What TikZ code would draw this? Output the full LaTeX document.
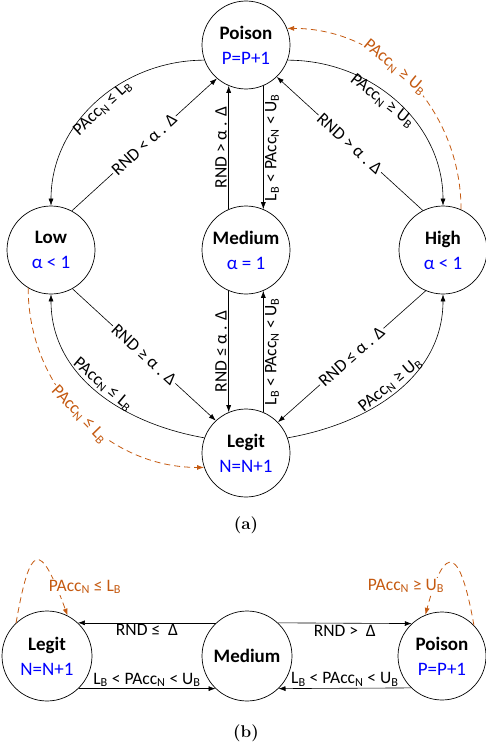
\documentclass[tikz,border=0pt]{standalone}
\usepackage{fontspec}
\usepackage{tikz}
\usetikzlibrary{arrows.meta,positioning}
\newfontfamily\calibri{Carlito}
\definecolor{accorange}{RGB}{197,90,17}
\newcommand{\pacc}{PAcc\textsubscript{N}}
\newcommand{\lbnd}{L\textsubscript{B}}
\newcommand{\ubnd}{U\textsubscript{B}}
\tikzset{
  state/.style={circle, draw, line width=0.7pt, minimum size=88pt, inner sep=0pt,
                align=center, font=\calibri\fontsize{19}{25}\selectfont},
  lbl/.style={font=\calibri\fontsize{17.5}{19}\selectfont, inner sep=1.5pt},
  onl/.style={lbl, sloped, fill=white},
  trans/.style={->, line width=0.6pt},
  dtrans/.style={->, line width=0.8pt, accorange, dash pattern=on 6pt off 4pt},
  >={Latex[length=7pt,width=5pt]}
}

\begin{document}
\begin{tikzpicture}[x=1pt,y=1pt]
  \useasboundingbox (0,0) rectangle (486,-749);

  % (a)
  \node[state] (poison) at (246,-45)  {\textbf{Poison}\\\textcolor{blue}{P=P+1}};
  \node[state] (low)    at (51,-250)  {\textbf{Low}\\\textcolor{blue}{α < 1}};
  \node[state] (medium) at (246,-250) {\textbf{Medium}\\\textcolor{blue}{α = 1}};
  \node[state] (high)   at (443,-250) {\textbf{High}\\\textcolor{blue}{α < 1}};
  \node[state] (legit)  at (246,-453) {\textbf{Legit}\\\textcolor{blue}{N=N+1}};

  \draw[trans] (poison.200) to[out=180,in=90] node[lbl,sloped,midway,below] {\pacc\ ≤ \lbnd} (low.north);
  \draw[trans] (low.62) -- node[onl] {RND < α . Δ} (poison.229);
  \draw[trans] (medium.113) -- node[lbl,rotate=90,anchor=south] {RND > α . Δ} (poison.247);
  \draw[trans] (poison.293) -- node[lbl,rotate=90,anchor=north] {\lbnd\ < \pacc\ < \ubnd} (medium.67);
  \draw[trans] (poison.-20) to[out=0,in=90] node[lbl,sloped,pos=.45,below] {\pacc\ ≥ \ubnd} (high.north);
  \draw[trans] (high.117) -- node[onl] {RND > α . Δ} (poison.314);
  \draw[dtrans] (high.66) to[out=90,in=0] node[onl,pos=.58] {\pacc\ ≥ \ubnd} (poison.22);

  \draw[trans] (low.299) -- node[onl] {RND ≥ α . Δ} (legit.133);
  \draw[trans] (legit.160) to[out=170,in=-90] node[lbl,sloped,midway,above] {\pacc\ ≤ \lbnd} (low.south);
  \draw[dtrans] (low.239) to[out=270,in=180] node[onl] {\pacc\ ≤ \lbnd} (legit.199);
  \draw[trans] (medium.247) -- node[lbl,rotate=90,anchor=south] {RND ≤ α . Δ} (legit.113);
  \draw[trans] (legit.67) -- node[lbl,rotate=90,anchor=north] {\lbnd\ < \pacc\ < \ubnd} (medium.293);
  \draw[trans] (high.247) -- node[onl] {RND ≤ α . Δ} (legit.44);
  \draw[trans] (legit.20) to[out=10,in=-90] node[lbl,sloped,midway,above] {\pacc\ ≥ \ubnd} (high.south);

  \node[font=\bfseries\fontsize{17}{20}\selectfont] (capa) at (246,-525) {(a)};

  % (b)
  \node[state,minimum size=90pt] (legitb)  at (47,-656)  {\textbf{Legit}\\\textcolor{blue}{N=N+1}};
  \node[state,minimum size=90pt] (mediumb) at (247,-656) {\textbf{Medium}};
  \node[state] (poisonb) at (442,-656) {\textbf{Poison}\\\textcolor{blue}{P=P+1}};

  \draw[trans] (mediumb.133) -- node[lbl,below] {RND ≤\ \ Δ} (legitb.47);
  \draw[trans] (legitb.-46) -- node[lbl,above] {\lbnd\ < \pacc\ < \ubnd} (mediumb.-134);
  \draw[trans] (mediumb.47) -- node[lbl,below] {RND >\ \ Δ} (poisonb.133);
  \draw[trans] (poisonb.-134) -- node[lbl,above] {\lbnd\ < \pacc\ < \ubnd} (mediumb.-46);

  \draw[dtrans] (legitb.133) to[out=80,in=110,looseness=4] (legitb.63);
  \node[lbl,text=accorange,fill=white] (loopl) at (85,-587) {\pacc\ ≤ \lbnd};
  \draw[dtrans] (poisonb.44) to[out=100,in=75,looseness=4] (poisonb.112);
  \node[lbl,text=accorange,fill=white] (loopp) at (406,-586) {\pacc\ ≥ \ubnd};

  \node[font=\bfseries\fontsize{17}{20}\selectfont] (capb) at (246,-733) {(b)};
\end{tikzpicture}
\end{document}
